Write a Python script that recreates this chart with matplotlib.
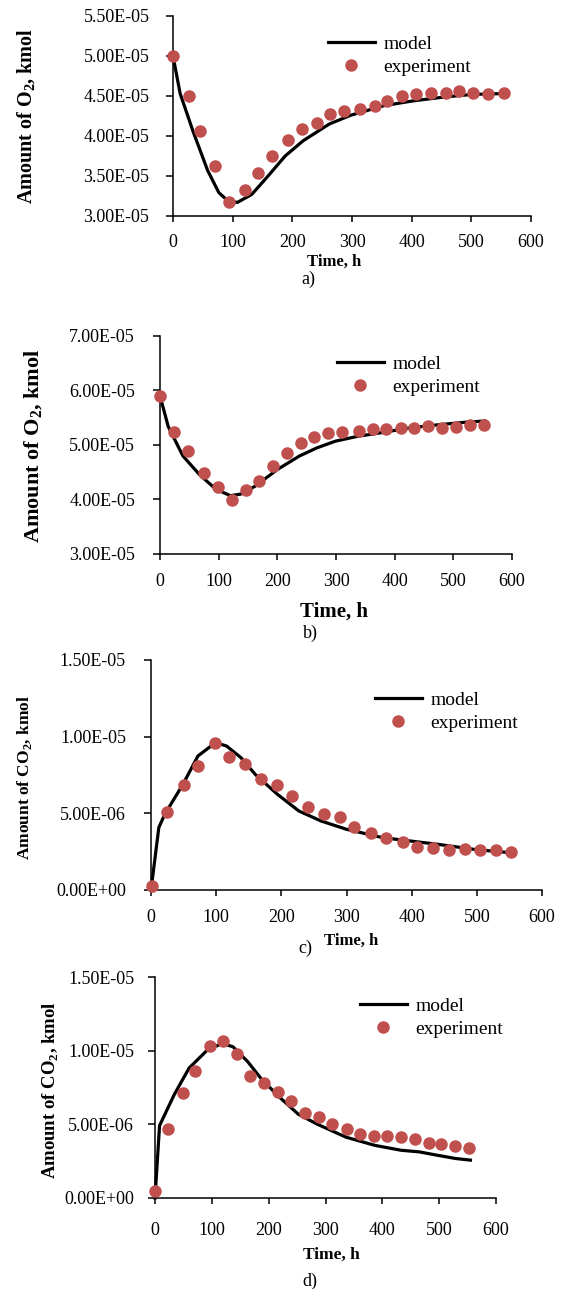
import numpy as np
import matplotlib
matplotlib.use('Agg')
import matplotlib.pyplot as plt
from matplotlib.ticker import FormatStrFormatter, MultipleLocator

plt.rcParams['font.family'] = ['Liberation Serif', 'DejaVu Serif']
plt.rcParams['mathtext.fontset'] = 'custom'
plt.rcParams['mathtext.rm'] = 'Liberation Serif'
plt.rcParams['mathtext.bf'] = 'Liberation Serif:bold'

# =============================================
#                    DATA
# =============================================

# a) O2
a_t_exp = [0, 26, 45, 71, 94, 121, 142, 166, 192, 217, 242, 263, 286, 313, 338, 358, 383, 408, 433, 457, 479, 503, 528, 554]
a_y_exp = [5.00, 4.50, 4.06, 3.63, 3.17, 3.32, 3.54, 3.75, 3.95, 4.09, 4.16, 4.27, 4.31, 4.34, 4.37, 4.44, 4.50, 4.53, 4.54, 4.54, 4.56, 4.54, 4.53, 4.54]
a_t_mod = [0, 12, 34, 58, 77, 92, 108, 132, 157, 188, 218, 262, 298, 354, 403, 458, 502, 551]
a_y_mod = [5.00, 4.53, 4.05, 3.57, 3.29, 3.19, 3.17, 3.27, 3.48, 3.75, 3.94, 4.15, 4.26, 4.38, 4.44, 4.49, 4.52, 4.53]

# b) O2
b_t_exp = [0, 24, 47, 75, 99, 122, 146, 169, 192, 217, 240, 263, 287, 311, 340, 363, 386, 411, 433, 456, 481, 504, 529, 552]
b_y_exp = [5.90, 5.24, 4.89, 4.49, 4.23, 3.99, 4.17, 4.34, 4.61, 4.86, 5.03, 5.14, 5.22, 5.23, 5.25, 5.30, 5.30, 5.31, 5.31, 5.35, 5.31, 5.33, 5.37, 5.36]
b_t_mod = [0, 14, 39, 67, 95, 120, 138, 163, 200, 238, 268, 299, 337, 380, 423, 473, 523, 554]
b_y_mod = [5.90, 5.34, 4.80, 4.46, 4.19, 4.07, 4.10, 4.25, 4.55, 4.80, 4.95, 5.07, 5.16, 5.23, 5.31, 5.37, 5.42, 5.44]

# c) CO2
c_t_exp = [1, 24, 50, 72, 98, 120, 145, 169, 194, 217, 241, 265, 290, 312, 338, 361, 386, 408, 433, 457, 482, 505, 530, 552]
c_y_exp = [0.26, 5.11, 6.87, 8.09, 9.61, 8.65, 8.22, 7.22, 6.83, 6.13, 5.41, 4.98, 4.76, 4.11, 3.70, 3.41, 3.13, 2.80, 2.72, 2.59, 2.70, 2.61, 2.63, 2.46]
c_t_mod = [0, 12, 21, 49, 72, 99, 116, 138, 160, 194, 227, 261, 300, 356, 440, 496, 551]
c_y_mod = [0.0, 4.07, 4.93, 6.89, 8.74, 9.61, 9.39, 8.63, 7.54, 6.24, 5.15, 4.50, 3.96, 3.41, 2.98, 2.65, 2.43]

# d) CO2
d_t_exp = [0, 23, 49, 71, 96, 120, 144, 168, 191, 216, 240, 264, 288, 312, 337, 361, 385, 409, 433, 457, 482, 504, 528, 553]
d_y_exp = [0.45, 4.69, 7.14, 8.64, 10.31, 10.65, 9.80, 8.30, 7.83, 7.17, 6.58, 5.78, 5.47, 5.00, 4.71, 4.35, 4.24, 4.20, 4.17, 4.00, 3.73, 3.66, 3.50, 3.39]
d_t_mod = [0, 8, 34, 60, 92, 118, 137, 163, 188, 220, 252, 285, 336, 387, 433, 465, 497, 529, 555]
d_y_mod = [0.0, 4.91, 7.03, 8.82, 10.04, 10.49, 10.27, 9.26, 8.04, 6.81, 5.69, 5.02, 4.13, 3.57, 3.24, 3.13, 2.90, 2.68, 2.57]

# =============================================
#                    LAYOUT
# =============================================

W, H = 572, 1289
fig = plt.figure(figsize=(W / 100, H / 100), dpi=100)
red = '#C0504D'


def add_panel(left, right, top, bottom):
    return fig.add_axes([left / W, 1 - bottom / H, (right - left) / W, (bottom - top) / H])


def fx(x):
    return x / W


def fy(y):
    return 1 - y / H


def style(ax, ylim, ystep, xpad, ypad):
    ax.set_xlim(0, 600)
    ax.set_ylim(*ylim)
    ax.xaxis.set_major_locator(MultipleLocator(100))
    ax.yaxis.set_major_locator(MultipleLocator(ystep))
    ax.yaxis.set_major_formatter(FormatStrFormatter('%.2E'))
    for s in ['top', 'right']:
        ax.spines[s].set_visible(False)
    for s in ['left', 'bottom']:
        ax.spines[s].set_linewidth(1.1)
    ax.tick_params(axis='x', direction='out', length=4, width=1.1, pad=xpad, labelsize=13)
    ax.tick_params(axis='y', direction='out', length=5, width=1.1, pad=ypad, labelsize=13)


panels = [
    # axes box, ylim, step, scale, data, labels and their pixel positions
    dict(box=(173, 531, 16, 216), ylim=(3.0e-5, 5.5e-5), step=0.5e-5, scale=1e-5,
         data=(a_t_exp, a_y_exp, a_t_mod, a_y_mod),
         ylabel=r'Amount of O$_\mathbf{2}$, kmol', ylpos=(26, 116), ylsize=14.5,
         xlpos=(334, 262), xlsize=12, cap='a)', cappos=(308, 279), leg=(328, 35),
         xpad=9, ypad=12),
    dict(box=(160, 512, 336, 554), ylim=(3.0e-5, 7.0e-5), step=1.0e-5, scale=1e-5,
         data=(b_t_exp, b_y_exp, b_t_mod, b_y_mod),
         ylabel=r'Amount of O$_\mathbf{2}$, kmol', ylpos=(34, 446), ylsize=16,
         xlpos=(334, 612), xlsize=15, cap='b)', cappos=(310, 633), leg=(337, 355),
         xpad=10, ypad=13),
    dict(box=(151, 542, 660, 890), ylim=(0.0, 1.5e-5), step=0.5e-5, scale=1e-6,
         data=(c_t_exp, c_y_exp, c_t_mod, c_y_mod),
         ylabel=r'Amount of CO$_\mathbf{2}$, kmol', ylpos=(25, 778), ylsize=12.5,
         xlpos=(351, 941), xlsize=12, cap='c)', cappos=(305, 948), leg=(375, 691),
         xpad=10, ypad=13),
    dict(box=(155, 496, 977, 1198), ylim=(0.0, 1.5e-5), step=0.5e-5, scale=1e-6,
         data=(d_t_exp, d_y_exp, d_t_mod, d_y_mod),
         ylabel=r'Amount of CO$_\mathbf{2}$, kmol', ylpos=(51, 1090), ylsize=13.5,
         xlpos=(331, 1255), xlsize=12.5, cap='d)', cappos=(310, 1281), leg=(360, 997),
         xpad=13, ypad=10),
]

for p in panels:
    ax = add_panel(*p['box'])
    t_exp, y_exp, t_mod, y_mod = p['data']
    ax.plot(t_mod, np.array(y_mod) * p['scale'], color='black', lw=2.3,
            solid_joinstyle='round', label='model', clip_on=False, zorder=2)
    ax.plot(t_exp, np.array(y_exp) * p['scale'], 'o', color=red, ms=8, mec=red,
            label='experiment', clip_on=False, zorder=3)
    style(ax, p['ylim'], p['step'], p['xpad'], p['ypad'])

    fig.text(fx(p['ylpos'][0]), fy(p['ylpos'][1]), p['ylabel'], rotation=90,
             ha='center', va='center', fontsize=p['ylsize'], fontweight='bold')
    fig.text(fx(p['xlpos'][0]), fy(p['xlpos'][1]), 'Time, h', ha='center', va='center',
             fontsize=p['xlsize'], fontweight='bold')
    fig.text(fx(p['cappos'][0]), fy(p['cappos'][1]), p['cap'], ha='center', va='center',
             fontsize=13)

    ax.legend(loc='upper left', bbox_to_anchor=(fx(p['leg'][0]), fy(p['leg'][1])),
              bbox_transform=fig.transFigure, frameon=False, fontsize=14,
              handlelength=2.4, handletextpad=0.45, borderpad=0, borderaxespad=0,
              labelspacing=0.3, numpoints=1)

fig.savefig('out.png', dpi=100)
